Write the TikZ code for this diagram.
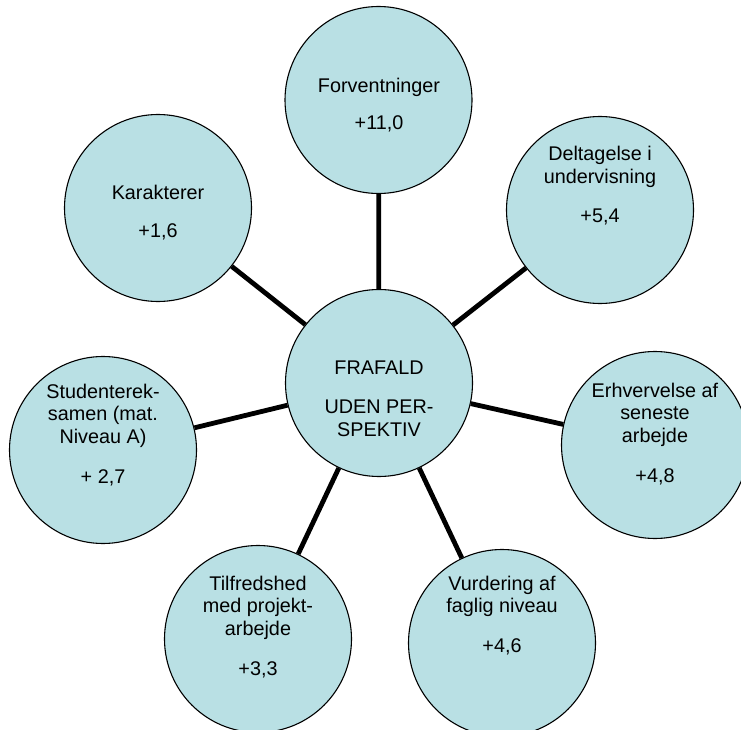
\documentclass[tikz,border=0pt]{standalone}
\usepackage{fontspec}
\setmainfont{Liberation Sans}
\usetikzlibrary{backgrounds}
\definecolor{bubble}{RGB}{185,224,228}
\tikzset{
  bub/.style={circle, draw=black, line width=1.1pt, fill=bubble, minimum size=187pt, inner sep=0pt},
  link/.style={line width=4.8pt, draw=black},
  txt/.style={anchor=base, inner sep=0pt, font=\fontsize{19.8}{22.6}\selectfont},
}
\newcommand{\bublines}[1]{\begin{tabular}[t]{@{}c@{}}#1\end{tabular}}
\begin{document}
\begin{tikzpicture}[x=1pt,y=-1pt]
\useasboundingbox (0,0) rectangle (741,730);
\clip (0,0) rectangle (741,730);
% circles
\node[bub] (c)     at (379,383) {};
\node[bub] (forv)  at (378.5,100) {};
\node[bub] (delt)  at (600,210) {};
\node[bub] (karak) at (158,208) {};
\node[bub] (stud)  at (103,450) {};
\node[bub] (erhv)  at (655,445) {};
\node[bub] (tilf)  at (258,639) {};
\node[bub] (vurd)  at (502,643) {};
% connectors
\begin{scope}[on background layer]
\draw[link] (c) -- (forv);
\draw[link] (c) -- (delt);
\draw[link] (c) -- (karak);
\draw[link] (c) -- (stud);
\draw[link] (c) -- (erhv);
\draw[link] (c) -- (tilf);
\draw[link] (c) -- (vurd);
\end{scope}
% texts
\node[txt] (tc)     at (379,374.3) {\bublines{FRAFALD\\[16.5pt]UDEN PER-\\SPEKTIV}};
\node[txt] (tforv)  at (379,92.7)  {\bublines{Forventninger\\[14.7pt]+11,0}};
\node[txt] (tdelt)  at (600,160.7) {\bublines{Deltagelse i\\undervisning\\[16.5pt]+5,4}};
\node[txt] (tkarak) at (158,199.3) {\bublines{Karakterer\\[15.8pt]+1,6}};
\node[txt] (tstud)  at (103,398.3) {\bublines{Studenterek-\\samen (mat.\\Niveau A)\\[17.5pt]+ 2,7}};
\node[txt] (terhv)  at (655,397.3) {\bublines{Erhvervelse af\\seneste\\arbejde\\[17.4pt]+4,8}};
\node[txt] (ttilf)  at (258,590)   {\bublines{Tilfredshed\\med projekt-\\arbejde\\[17.4pt]+3,3}};
\node[txt] (tvurd)  at (502,590)   {\bublines{Vurdering af\\faglig niveau\\[17.4pt]+4,6}};
\end{tikzpicture}
\end{document}
